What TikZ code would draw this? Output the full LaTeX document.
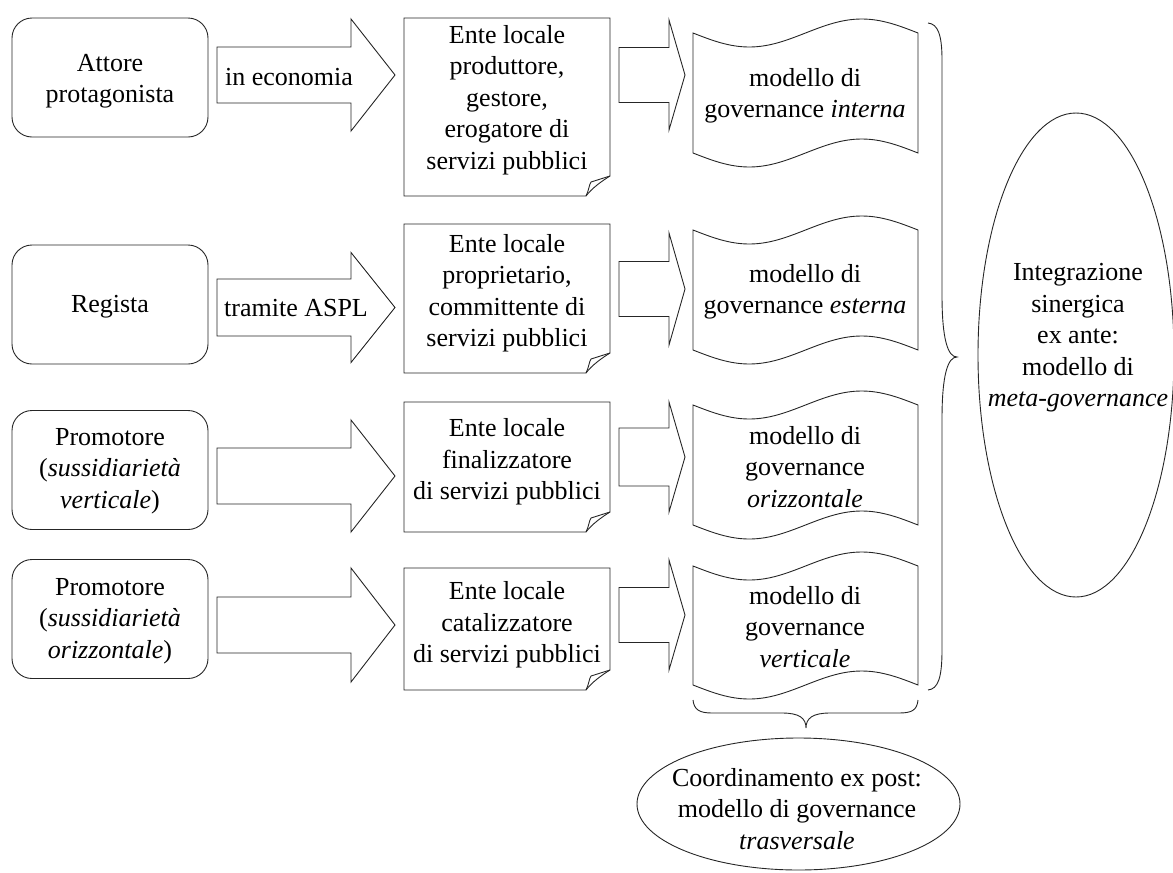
\documentclass[tikz,border=0pt]{standalone}
\usepackage{fontspec}
\setmainfont{Liberation Serif}
\usetikzlibrary{shapes.geometric}
% block arrow: x0 x1 x2 yc shafthalf headhalf
\newcommand\blockarr[6]{%
  \draw[line] (#1,#4-#5) -- (#2,#4-#5) -- (#2,#4-#6) -- (#3,#4) -- (#2,#4+#6) -- (#2,#4+#5) -- (#1,#4+#5) -- cycle;}
% document with folded corner: top bottom
\newcommand\docshape[2]{%
  \draw[line] (404,#1) -- (610,#1) -- (610,#2-20) .. controls (602,#2-15) and (592,#2-8) .. (586,#2) -- (404,#2) -- cycle;
  \draw[line] (586,#2) .. controls (589,#2-6) and (589,#2-11) .. (591,#2-14) -- (610,#2-20);}
% punched tape: top bottom
\newcommand\tapeshape[2]{%
  \draw[line] (693,#1) sin (749.25,#1+14) cos (805.5,#1) sin (861.75,#1-14) cos (918,#1)
    -- (918,#2) sin (861.75,#2-14) cos (805.5,#2) sin (749.25,#2+14) cos (693,#2) -- cycle;}
\begin{document}
\begin{tikzpicture}[x=1pt,y=-1pt,
  line/.style={draw=black!85, line width=0.9pt},
  roundbox/.style={line, rounded corners=20pt, minimum width=196pt, minimum height=119pt, inner sep=0pt},
  txt/.style={align=center, font=\fontsize{26pt}{31.5pt}\selectfont, inner sep=0pt, text=black},
  oval/.style={line, ellipse, inner sep=0pt},
]
\useasboundingbox (0,0) rectangle (1173,873);

% left boxes
\node[roundbox] (L1) at (110,77.5) {};
\node[roundbox] (L2) at (110,304.5) {};
\node[roundbox] (L3) at (110,470) {};
\node[roundbox] (L4) at (110,619) {};
\node[txt] (L1t) at (110,81) {Attore\\protagonista};
\node[txt] (L2t) at (110,307) {Regista};
\node[txt] (L3t) at (110,471) {Promotore\\(\textit{sussidiarietà}\\\textit{verticale})};
\node[txt] (L4t) at (110,621) {Promotore\\(\textit{sussidiarietà}\\\textit{orizzontale})};

% first column of block arrows
\blockarr{217}{351}{395}{75}{28}{56}
\blockarr{217}{351}{395}{307.5}{28.5}{55}
\blockarr{217}{351}{395}{476}{28}{56}
\blockarr{217}{351}{395}{625}{28}{57}
\node[txt] (A1t) at (289,77) {in economia};
\node[txt] (A2t) at (296,308) {tramite ASPL};

% documents
\docshape{18}{196}
\docshape{224}{373}
\docshape{402}{532}
\docshape{568}{690}
\node[txt] (D1) at (507,100) {Ente locale\\produttore,\\gestore,\\erogatore di\\servizi pubblici};
\node[txt] (D2) at (507,293) {Ente locale\\proprietario,\\committente di\\servizi pubblici};
\node[txt] (D3) at (507,462) {Ente locale\\finalizzatore\\di servizi pubblici};
\node[txt] (D4) at (507,625) {Ente locale\\catalizzatore\\di servizi pubblici};

% second column of block arrows
\blockarr{619}{669}{685}{75}{27.5}{55}
\blockarr{619}{669}{685}{289}{27.5}{56}
\blockarr{619}{669}{685}{457}{29}{55}
\blockarr{619}{669}{685}{615}{27.5}{55}

% tapes
\tapeshape{33}{153}
\tapeshape{230}{350}
\tapeshape{405}{525}
\tapeshape{566}{685}
\node[txt] (T1) at (805,96) {modello di\\governance \textit{interna}};
\node[txt] (T2) at (805,292) {modello di\\governance \textit{esterna}};
\node[txt] (T3) at (805,467) {modello di\\governance\\\textit{orizzontale}};
\node[txt] (T4) at (805,627) {modello di\\governance\\\textit{verticale}};

% right brace
\coordinate (RBtop) at (928,23);
\coordinate (RBtip) at (957,357);
\coordinate (RBbot) at (928,690);
\draw[line] (RBtop) .. controls (938,24) and (942,35) .. (942,60) -- (942,295)
  .. controls (942,340) and (948,357) .. (RBtip)
  .. controls (948,357) and (942,374) .. (942,419) -- (942,650)
  .. controls (942,678) and (938,689) .. (RBbot);

% bottom brace
\coordinate (BBl) at (693,700);
\coordinate (BBtip) at (806,728);
\coordinate (BBr) at (918,700);
\draw[line] (BBl) .. controls (694,710) and (700,713) .. (712,713) -- (782,713)
  .. controls (799,713) and (806,718) .. (BBtip)
  .. controls (806,718) and (813,713) .. (830,713) -- (899,713)
  .. controls (912,713) and (917,710) .. (BBr);

% ellipses
\node[oval, minimum width=196pt, minimum height=484pt] (E1) at (1076,355) {};
\node[txt] (E1t) at (1078,338) {Integrazione\\sinergica\\ex ante:\\modello di\\\textit{meta-governance}};
\node[oval, minimum width=323pt, minimum height=132pt] (E2) at (798.5,804) {};
\node[txt] (E2t) at (797,809) {Coordinamento ex post:\\modello di governance\\\textit{trasversale}};
\end{tikzpicture}
\end{document}
